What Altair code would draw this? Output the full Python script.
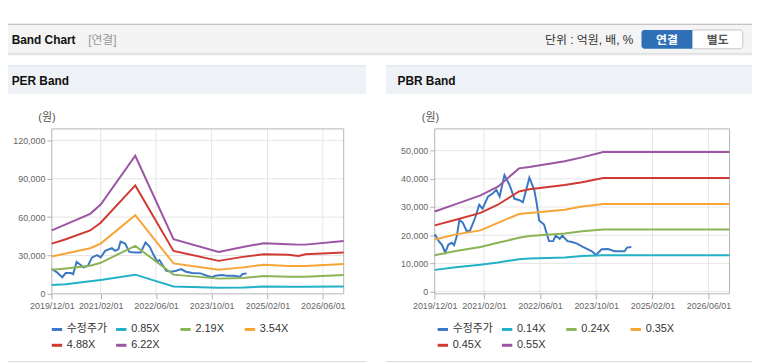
import altair as alt
import pandas as pd

FONT = "'Liberation Sans', 'Noto Sans CJK KR', sans-serif"

# ---------------- data ----------------
per_names = ["수정주가", "0.85X", "2.19X", "3.54X", "4.88X", "6.22X"]
pbr_names = ["수정주가", "0.14X", "0.24X", "0.35X", "0.45X", "0.55X"]
colors = ["#3b78c4", "#22b1c6", "#8cb457", "#f7a535", "#d13a32", "#9b55a3"]

x_tick_dates = [(2019, 12), (2021, 2), (2022, 6), (2023, 10), (2025, 2), (2026, 6)]
x_start = "2019-12-01"
x_end = "2026-12-01"

per_y_ticks = [0, 30000, 60000, 90000, 120000]
pbr_y_ticks = [0, 10000, 20000, 30000, 40000, 50000]
per_y_domain = [0, 129000]
pbr_y_domain = [-800, 57700]

per_band_dates = ["2019-12-01", "2020-04-01", "2020-11-01", "2021-02-01", "2021-12-01",
                  "2022-11-01", "2023-12-01", "2024-07-01", "2025-01-01", "2025-08-01",
                  "2025-11-01", "2026-01-01", "2026-12-01"]
per_085 = [7000, 7500, 9800, 10900, 15000, 5700, 4700, 5000, 5700, 5600, 5600, 5600, 5800]
per_219 = [18900, 19900, 22000, 24300, 37500, 15000, 11900, 12400, 14000, 13400, 13400, 13400, 14700]
per_354 = [29200, 31600, 35700, 39300, 61500, 23800, 18900, 20700, 22700, 21700, 21700, 21700, 23300]
per_488 = [39300, 42700, 49600, 55600, 84800, 33600, 25800, 28900, 31000, 30500, 29600, 31000, 32300]
per_622 = [49600, 54300, 62600, 69800, 108000, 42700, 32800, 36700, 39600, 38800, 38500, 38500, 41400]

per_price_dates = ["2019-12-01", "2020-01-15", "2020-03-01", "2020-04-01", "2020-05-15",
                   "2020-06-05", "2020-07-05", "2020-08-10", "2020-09-05", "2020-10-12",
                   "2020-11-18", "2021-01-01", "2021-02-01", "2021-03-12", "2021-05-10",
                   "2021-06-07", "2021-07-07", "2021-07-25", "2021-09-03", "2021-10-10",
                   "2021-11-28", "2022-01-18", "2022-03-01", "2022-04-07", "2022-05-10",
                   "2022-06-10", "2022-07-01", "2022-08-28", "2022-10-12", "2022-11-25",
                   "2023-01-06", "2023-02-18", "2023-04-15", "2023-06-25", "2023-08-20",
                   "2023-10-05", "2023-11-03", "2024-01-01", "2024-02-12", "2024-04-10",
                   "2024-06-06", "2024-06-28", "2024-08-03"]
per_price = [19400, 16800, 13000, 16300, 16300, 15500, 25000, 22600, 20700, 22000,
             28500, 30300, 28500, 33600, 35700, 33600, 35000, 40900, 39300, 32800,
             32300, 32300, 40100, 36700, 30500, 25400, 26400, 18100, 17300, 18100,
             19400, 17300, 16300, 16000, 14200, 13000, 14200, 14700, 14200, 14200,
             13400, 15500, 16000]

pbr_band_dates = ["2019-12-01", "2020-06-01", "2021-01-01", "2021-06-01", "2021-12-01",
                  "2022-03-01", "2023-01-01", "2023-06-01", "2023-12-01", "2026-12-01"]
pbr_014 = [7700, 8600, 9500, 10300, 11500, 11700, 12100, 12600, 12900, 12900]
pbr_024 = [12900, 14400, 15800, 17300, 19100, 19700, 20600, 21400, 22000, 22000]
pbr_035 = [18500, 20300, 21700, 24400, 27500, 27900, 29000, 30200, 31100, 31100]
pbr_045 = [23500, 25500, 27900, 30800, 35500, 36300, 37800, 38800, 40300, 40300]
pbr_055 = [28400, 31000, 34100, 37200, 43700, 44200, 46200, 47600, 49500, 49500]

pbr_price_dates = ["2019-12-01", "2020-01-05", "2020-02-03", "2020-03-01", "2020-03-29",
                   "2020-04-27", "2020-05-17", "2020-06-10", "2020-07-02", "2020-08-01",
                   "2020-09-04", "2020-10-03", "2020-11-15", "2020-12-21", "2021-01-19",
                   "2021-03-07", "2021-04-19", "2021-05-19", "2021-06-16", "2021-07-28",
                   "2021-09-10", "2021-10-23", "2021-12-01", "2022-01-04", "2022-03-01",
                   "2022-04-12", "2022-05-02", "2022-05-25", "2022-07-06", "2022-08-18",
                   "2022-09-23", "2022-10-15", "2022-11-19", "2022-12-12", "2023-01-25",
                   "2023-03-07", "2023-04-18", "2023-06-12", "2023-08-22", "2023-09-30",
                   "2023-11-18", "2024-01-12", "2024-03-10", "2024-06-03", "2024-06-25",
                   "2024-08-01"]
pbr_price = [20300, 17900, 16500, 13800, 16700, 17300, 16500, 19700, 25500, 24400,
             21400, 21700, 26100, 30800, 29400, 33700, 34900, 36100, 33700, 41300,
             37800, 32900, 32500, 31700, 40400, 36100, 31700, 25200, 23800, 17900,
             17900, 19900, 18700, 19900, 17900, 17600, 17000, 15800, 14400, 13000,
             15000, 15100, 14300, 14300, 15600, 15800]


def long_df(price_dates, price_vals, band_dates, bands, names):
    rows = [{"date": d, "value": v, "series": names[0]} for d, v in zip(price_dates, price_vals)]
    for name, vals in zip(names[1:], bands):
        rows += [{"date": d, "value": v, "series": name} for d, v in zip(band_dates, vals)]
    return pd.DataFrame(rows)


per_df = long_df(per_price_dates, per_price, per_band_dates,
                 [per_085, per_219, per_354, per_488, per_622], per_names)
pbr_df = long_df(pbr_price_dates, pbr_price, pbr_band_dates,
                 [pbr_014, pbr_024, pbr_035, pbr_045, pbr_055], pbr_names)


def dt(s):
    y, m, d = (int(p) for p in s.split("-"))
    return alt.DateTime(year=y, month=m, date=d, utc=True)


def panel(df, names, y_ticks, y_domain, x_range, legend_x):
    xs = alt.Scale(type="utc", domain=[dt(x_start), dt(x_end)], range=x_range)
    ys = alt.Scale(domain=y_domain, range=[287, 120.3], nice=False, zero=False)
    ax = alt.Axis(orient="bottom", values=[alt.DateTime(year=y, month=m, date=1, utc=True) for y, m in x_tick_dates],
                  labelExpr="utcFormat(datum.value, '%Y/%m/%d')", grid=False, domain=False,
                  tickColor="#b0b0b0", tickSize=5, labelFontSize=9, labelColor="#666666",
                  labelFont=FONT, labelPadding=3, labelOverlap=False, labelFlush=False, title=None)
    ay = alt.Axis(orient="left", offset=-x_range[0], values=y_ticks, format=",d", grid=False,
                  domain=False, tickColor="#b0b0b0", tickSize=5, labelFontSize=9,
                  labelColor="#666666", labelFont=FONT, labelPadding=2, title=None)

    hgrid = pd.DataFrame({"v": [t for t in y_ticks if t > y_domain[0] + 1 or y_domain[0] < 0]})
    hgrid["a"] = x_start
    hgrid["b"] = x_end
    vgrid = pd.DataFrame({"d": ["%04d-%02d-01" % t for t in x_tick_dates[1:]]})
    vgrid["lo"] = y_domain[0]
    vgrid["hi"] = y_domain[1]
    frame = pd.DataFrame({"a": [x_start], "b": [x_end], "lo": [y_domain[0]], "hi": [y_domain[1]]})

    h = alt.Chart(hgrid).mark_rule(color="#e6e6e6", strokeWidth=1).encode(
        x=alt.X("a:T", scale=xs, axis=ax), x2="b:T", y=alt.Y("v:Q", scale=ys, axis=ay))
    v = alt.Chart(vgrid).mark_rule(color="#e6e6e6", strokeWidth=1).encode(
        x=alt.X("d:T", scale=xs, axis=ax), y=alt.Y("lo:Q", scale=ys, axis=ay), y2="hi:Q")
    fr = alt.Chart(frame).mark_rect(fillOpacity=0, stroke="#b4b4b4", strokeWidth=1).encode(
        x=alt.X("a:T", scale=xs, axis=ax), x2="b:T", y=alt.Y("lo:Q", scale=ys, axis=ay), y2="hi:Q")
    lines = alt.Chart(df).mark_line(strokeWidth=2).encode(
        x=alt.X("date:T", scale=xs, axis=ax),
        y=alt.Y("value:Q", scale=ys, axis=ay),
        color=alt.Color("series:N", scale=alt.Scale(domain=names, range=colors),
                        legend=alt.Legend(title=None, orient="none", legendX=legend_x, legendY=316,
                                          direction="horizontal", columns=4, gridAlign="all",
                                          symbolType="stroke", symbolSize=110, symbolStrokeWidth=3,
                                          labelFontSize=11, labelColor="#333333", labelFont=FONT,
                                          labelOffset=3, columnPadding=2, rowPadding=3, padding=0)),
    )
    return alt.layer(h, v, fr, lines)


one = pd.DataFrame({"k": [0]})


def box(x1, x2, y1, y2, **kw):
    return alt.Chart(one).mark_rect(**kw).encode(
        x=alt.value(x1), x2=alt.value(x2), y=alt.value(y1), y2=alt.value(y2))


def hline(x1, x2, y, color):
    return alt.Chart(one).mark_rule(color=color, strokeWidth=1).encode(
        x=alt.value(x1), x2=alt.value(x2), y=alt.value(y))


def label(x, y, s, size=12, weight="normal", color="#333333", align="left"):
    return alt.Chart(one).mark_text(text=s, font=FONT, fontSize=size, fontWeight=weight,
                                    color=color, align=align, baseline="middle").encode(
        x=alt.value(x), y=alt.value(y))


decor = [
    box(0, 752, 14, 44.5, fill="#f4f4f4"),
    hline(0, 752, 14.5, "#b4b4b4"),
    hline(0, 752, 44.5, "#cfcfcf"),
    hline(0, 752, 45.5, "#e8e8e8"),
    label(3.7, 30.5, "Band Chart", size=12, weight="bold", color="#111111"),
    label(81, 30.5, "[연결]", size=12, color="#999999"),
    label(632, 30.5, "단위 : 억원, 배, %", size=12, color="#333333", align="right"),
    box(640.3, 692, 20.3, 39.3, fill="#2f6fb8", cornerRadiusTopLeft=3, cornerRadiusBottomLeft=3),
    box(692, 742.7, 20.3, 39.3, fill="#ffffff", stroke="#c4c4c4", strokeWidth=1,
        cornerRadiusTopRight=3, cornerRadiusBottomRight=3),
    label(666, 30, "연결", size=12, weight="bold", color="#ffffff", align="center"),
    label(717.3, 30, "별도", size=12, weight="bold", color="#555555", align="center"),
    box(0, 362, 56, 85, fill="#eef2f7"),
    box(382, 752, 56, 85, fill="#eef2f7"),
    hline(0, 362, 56.5, "#e0e3e8"),
    hline(382, 752, 56.5, "#e0e3e8"),
    label(3.7, 72, "PER Band", size=12, weight="bold", color="#111111"),
    label(393.7, 72, "PBR Band", size=12, weight="bold", color="#111111"),
    label(39.3, 109.7, "(원)", size=11, color="#555555", align="center"),
    label(427, 109.7, "(원)", size=11, color="#555555", align="center"),
    hline(0, 362, 355.5, "#d8d8d8"),
    hline(382, 752, 355.5, "#d8d8d8"),
]

per_panel = panel(per_df, per_names, per_y_ticks, per_y_domain, [44.3, 339.3], 42.5)
pbr_panel = panel(pbr_df, pbr_names, pbr_y_ticks, pbr_y_domain, [431.3, 729.3], 432.5)

chart = alt.layer(*decor, per_panel, pbr_panel).resolve_scale(
    x="independent", y="independent", color="independent"
).properties(
    width=752, height=287,
    padding={"left": 0, "top": 0, "right": 0, "bottom": 69},
    autosize=alt.AutoSizeParams(type="none"),
    background="#ffffff",
).configure_view(stroke="transparent")

chart.save("out.html", embed_options={"renderer": "svg", "actions": False})
